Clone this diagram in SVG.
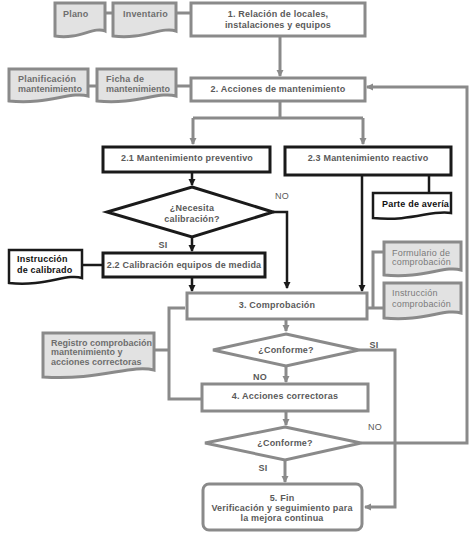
<svg xmlns="http://www.w3.org/2000/svg" width="474" height="535" viewBox="0 0 474 535">
<defs>
<marker id="ag" markerWidth="8" markerHeight="8" refX="6" refY="4" orient="auto" markerUnits="userSpaceOnUse"><path d="M0,0.5 L7,4 L0,7.5 Z" fill="#8a8a8a"/></marker>
<marker id="ab" markerWidth="8" markerHeight="8" refX="6" refY="4" orient="auto" markerUnits="userSpaceOnUse"><path d="M0,0.5 L7,4 L0,7.5 Z" fill="#1a1a1a"/></marker>
<style>
.g{fill:#fff;stroke:#8a8a8a;stroke-width:3}
.b{fill:#fff;stroke:#1a1a1a;stroke-width:3}
.dg{fill:#e2e2e2;stroke:#8a8a8a;stroke-width:3}
.db{fill:#fff;stroke:#1a1a1a;stroke-width:2.5}
.cg{fill:none;stroke:#8a8a8a;stroke-width:3}
.cb{fill:none;stroke:#1a1a1a;stroke-width:2.5}
text{font-family:"Liberation Sans",Arial,sans-serif;font-size:9px;font-weight:bold;fill:#5a5a5a;letter-spacing:0.2px}
.c{text-anchor:middle}
.k{fill:#111}
.d{fill:#6e6e6e}
.n{letter-spacing:0}
.t{fill:#7a7a7a;font-weight:normal}
</style>
</defs>
<rect width="474" height="535" fill="#fff"/>

<g id="connectors">
<path class="cg" d="M105,13 H113 M176,13 H191"/>
<path class="cg" d="M88,86 H97 M176,86 H191"/>
<path class="cg" d="M280,36 V76" marker-end="url(#ag)"/>
<path class="cg" d="M280,101 V118 M193,118 H363"/>
<path class="cg" d="M193,118 V144" marker-end="url(#ag)"/>
<path class="cg" d="M363,118 V144" marker-end="url(#ag)"/>
<path class="cb" d="M192,172 V185" marker-end="url(#ab)"/>
<path class="cb" d="M273,212 H287 V288" marker-end="url(#ab)"/>
<path class="cb" d="M192,237 V251" marker-end="url(#ab)"/>
<path class="cb" d="M82,265 H103"/>
<path class="cb" d="M192,277 V291" marker-end="url(#ab)"/>
<path class="cb" d="M362,175 V291" marker-end="url(#ab)"/>
<path class="cb" d="M429,175 V193"/>
<path class="cg" d="M384,252 H373 V308 M367,308 H384"/>
<path class="cg" d="M185,308 H169 V399 H202 M154,350 H169"/>
<path class="cg" d="M286,319 V331" marker-end="url(#ag)"/>
<path class="cg" d="M286,366 V382" marker-end="url(#ag)"/>
<path class="cg" d="M286,411 V425" marker-end="url(#ag)"/>
<path class="cg" d="M285,460 V482" marker-end="url(#ag)"/>
<path class="cg" d="M359,350 H395 V507 H365" marker-end="url(#ag)"/>
<path class="cg" d="M361,443 H467 V87 H367" marker-end="url(#ag)"/>
</g>

<g id="plano"><path class="dg" d="M55,3 H105 V31 C94,26 79,40 55,36 Z"/><text class="d" x="63" y="17">Plano</text></g>
<g id="inventario"><path class="dg" d="M113,3 H176 V31 C162,26 143,40 113,36 Z"/><text class="d" x="123" y="17">Inventario</text></g>
<g id="n1"><rect class="g" x="191" y="3" width="174" height="33"/><text class="c" x="278" y="17">1. Relación de locales,</text><text class="c" x="278" y="28">instalaciones y equipos</text></g>

<g id="planificacion"><path class="dg" d="M9,69 H88 V96 C71,91 48,105 9,101 Z"/><text class="d" x="18" y="82">Planificación</text><text class="d n" x="18" y="92">mantenimiento</text></g>
<g id="ficha"><path class="dg" d="M97,69 H176 V96 C159,91 136,105 97,101 Z"/><text class="d" x="106" y="82">Ficha de</text><text class="d n" x="106" y="92">mantenimiento</text></g>
<g id="n2"><rect class="g" x="191" y="78" width="174" height="23"/><text class="c" x="278" y="92">2. Acciones de mantenimiento</text></g>

<g id="n21"><rect class="b" x="103" y="147" width="167" height="25"/><text class="c" x="187" y="161">2.1 Mantenimiento preventivo</text></g>
<g id="n23"><rect class="b" x="285" y="147" width="166" height="28"/><text class="c" x="368" y="161">2.3 Mantenimiento reactivo</text></g>
<g id="parte"><path class="db" d="M373,193 H451 V213 C433,209 412,222 373,218 Z"/><text class="k" x="382" y="207">Parte de avería</text></g>

<g id="d1"><path class="b" d="M192,187 L273,212 L192,237 L107,212 Z"/><text class="c" x="192" y="211">¿Necesita</text><text class="c" x="192" y="222">calibración?</text></g>
<text x="282" y="199" class="c" style="font-weight:normal">NO</text>
<text x="163" y="248" class="c">SI</text>

<g id="calib"><path class="db" d="M9,250 H82 V278 C67,273 45,287 9,283 Z"/><text class="k" x="17" y="262">Instrucción</text><text class="k" x="17" y="273">de calibrado</text></g>
<g id="n22"><rect class="b" x="103" y="253" width="162" height="24"/><text class="c" x="184" y="268">2.2 Calibración equipos de medida</text></g>

<g id="formulario"><path class="dg" d="M384,242 H461 V270 C445,265 423,279 384,275 Z"/><text class="t" x="392" y="256">Formulario de</text><text class="t" x="392" y="265">comprobación</text></g>
<g id="instruccion"><path class="dg" d="M384,283 H461 V313 C445,308 423,322 384,318 Z"/><text class="t" x="392" y="296">Instrucción</text><text class="t" x="392" y="307">comprobación</text></g>

<g id="n3"><rect class="g" x="187" y="293" width="180" height="26"/><text class="c" x="277" y="308">3. Comprobación</text></g>

<g id="registro"><path class="dg" d="M43,333 H154 V370 C131,364 99,381 43,377 Z"/><text class="d n" x="51" y="346">Registro comprobación</text><text class="d n" x="51" y="355">mantenimiento y</text><text class="d n" x="51" y="365">acciones correctoras</text></g>

<g id="d2"><path class="g" d="M286,334 L359,350 L286,366 L213,350 Z"/><text class="c" x="286" y="353">¿Conforme?</text></g>
<text x="374" y="348" class="c">SI</text>
<text x="260" y="380" class="c">NO</text>

<g id="n4"><rect class="g" x="202" y="384" width="166" height="27"/><text class="c" x="285" y="399">4. Acciones correctoras</text></g>

<g id="d3"><path class="g" d="M285,427 L361,443 L285,460 L205,443 Z"/><text class="c" x="285" y="446">¿Conforme?</text></g>
<text x="375" y="430" class="c" style="font-weight:normal">NO</text>
<text x="263" y="471" class="c">SI</text>

<g id="n5"><rect class="g" x="203" y="484" width="159" height="46" rx="6"/><text class="c" x="282" y="501">5. Fin</text><text class="c" x="282" y="511">Verificación y seguimiento para</text><text class="c" x="282" y="521">la mejora continua</text></g>
</svg>
